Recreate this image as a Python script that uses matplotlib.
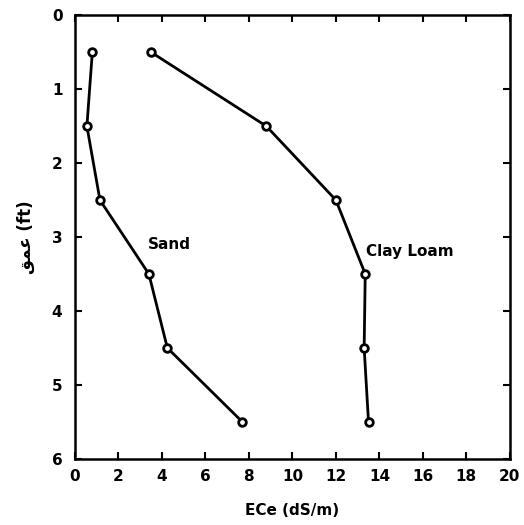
import matplotlib.pyplot as plt

depth = [0.5, 1.5, 2.5, 3.5, 4.5, 5.5]
sand = [0.8, 0.55, 1.15, 3.4, 4.25, 7.7]
clay_loam = [3.5, 8.8, 12.0, 13.35, 13.3, 13.5]

plt.rcParams['font.family'] = ['DejaVu Sans']
plt.rcParams['font.weight'] = 'bold'

fig = plt.figure(figsize=(5.24, 5.25), dpi=100)
ax = fig.add_axes([0.143, 0.126, 0.83, 0.845])

for ece in (sand, clay_loam):
    ax.plot(ece, depth, color='black', lw=2, marker='o', ms=5.5,
            mfc='white', mec='black', mew=2)

ax.text(3.35, 3.1, 'Sand', fontsize=11, fontweight='bold', va='center')
ax.text(13.4, 3.2, 'Clay Loam', fontsize=11, fontweight='bold', va='center')

ax.set_xlim(0, 20)
ax.set_ylim(6, 0)
ax.set_xticks(range(0, 21, 2))
ax.set_yticks(range(0, 7))
ax.tick_params(direction='in', top=True, right=True, length=5, width=1.5,
               labelsize=11)
ax.tick_params(axis='y', pad=9)
ax.tick_params(axis='x', pad=7)
for s in ax.spines.values():
    s.set_linewidth(1.8)

ax.set_xlabel('ECe (dS/m)', fontsize=11, fontweight='bold', labelpad=14)
# Arabic "عمق" in presentation forms, visual order
ax.set_ylabel('\ufed6\ufee4\ufecb (ft)', fontsize=12, fontweight='bold', labelpad=12)

fig.savefig('out.png', dpi=100)
